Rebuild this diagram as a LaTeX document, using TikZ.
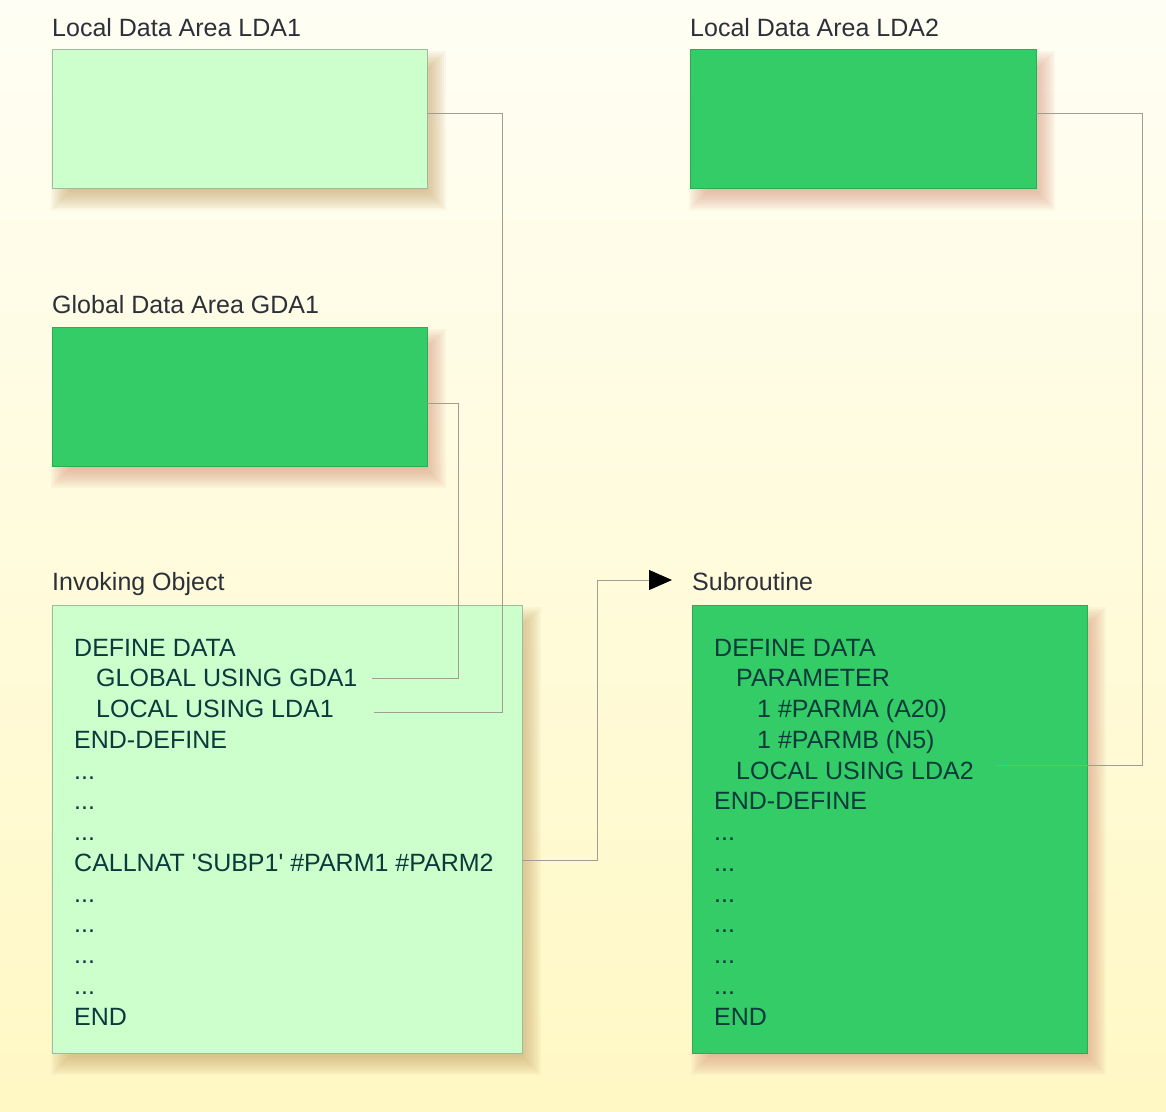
\documentclass[tikz,border=0pt]{standalone}
\usepackage{fontspec}
\setmainfont{Liberation Sans}[Ligatures=TeXOff]
\usetikzlibrary{arrows.meta}
\definecolor{bgtop}{HTML}{FFFEF4}
\definecolor{bgbot}{HTML}{FFF8C4}
\definecolor{lgreen}{HTML}{CCFFCC}
\definecolor{dgreen}{HTML}{33CC66}
\definecolor{lborder}{HTML}{9DBB9D}
\definecolor{dborder}{HTML}{2AAE55}
\definecolor{codecol}{HTML}{0B3A3C}
\definecolor{labcol}{HTML}{2C3038}
\definecolor{conncol}{HTML}{A09E94}
\definecolor{shadowL}{HTML}{C4A266}
\definecolor{shadowD}{HTML}{D8967C}
\newcommand\mkshadow[5]{%
  \foreach \s in {-10,-8,...,10}{%
    \fill[#5,opacity=0.08] ({#1+9+\s},{#2+12+\s}) rectangle ({#3+9-\s},{#4+12-\s});}}
\begin{document}
\begin{tikzpicture}[x=1pt,y=-1pt,font=\fontsize{25}{30}\selectfont,
  lightbox/.style={draw=lborder,line width=0.8pt,fill=lgreen,anchor=north west,inner sep=0pt,outer sep=0pt},
  darkbox/.style={draw=dborder,line width=0.8pt,fill=dgreen,anchor=north west,inner sep=0pt,outer sep=0pt},
  lab/.style={anchor=base west,inner sep=0pt,text=labcol},
  code/.style={anchor=base west,inner sep=0pt,text=codecol},
  conn/.style={draw=conncol,line width=1pt}]
\useasboundingbox (0,0) rectangle (1166,1111);
\shade[top color=bgtop,bottom color=bgbot] (0,0) rectangle (1166,1111);
% shadows
\mkshadow{52}{49}{427}{188}{shadowL}
\mkshadow{690}{49}{1036}{188}{shadowD}
\mkshadow{52}{327}{427}{466}{shadowD}
\mkshadow{52}{605}{522}{1053}{shadowL}
\mkshadow{692}{605}{1087}{1053}{shadowD}
% labels
\node[lab] (lLDA1) at (52,36) {Local Data Area LDA1};
\node[lab] (lLDA2) at (690,36) {Local Data Area LDA2};
\node[lab] (lGDA1) at (52,313) {Global Data Area GDA1};
\node[lab] (lInv) at (52,590) {Invoking Object};
\node[lab] (lSub) at (692,590) {Subroutine};
% boxes
\node[lightbox,minimum width=375pt,minimum height=139pt] (lda1) at (52,49) {};
\node[darkbox,minimum width=346pt,minimum height=139pt] (lda2) at (690,49) {};
\node[darkbox,minimum width=375pt,minimum height=139pt] (gda1) at (52,327) {};
\node[lightbox,minimum width=470pt,minimum height=448pt] (inv) at (52,605) {};
\node[darkbox,minimum width=395pt,minimum height=448pt] (sub) at (692,605) {};
% left code
\node[code] (a0) at (74,656) {DEFINE DATA};
\node[code] (a1) at (96,686.75) {GLOBAL USING GDA1};
\node[code] (a2) at (96,717.5) {LOCAL USING LDA1};
\node[code] (a3) at (74,748.25) {END-DEFINE};
\node[code] (a4) at (74,779) {...};
\node[code] (a5) at (74,809.75) {...};
\node[code] (a6) at (74,840.5) {...};
\node[code] (a7) at (74,871.25) {CALLNAT 'SUBP1' \#PARM1 \#PARM2};
\node[code] (a8) at (74,902) {...};
\node[code] (a9) at (74,932.75) {...};
\node[code] (a10) at (74,963.5) {...};
\node[code] (a11) at (74,994.25) {...};
\node[code] (a12) at (74,1025) {END};
% right code
\node[code] (b0) at (714,656) {DEFINE DATA};
\node[code] (b1) at (736,686.75) {PARAMETER};
\node[code] (b2) at (757,717.5) {1 \#PARMA (A20)};
\node[code] (b3) at (757,748.25) {1 \#PARMB (N5)};
\node[code] (b4) at (736,779) {LOCAL USING LDA2};
\node[code] (b5) at (714,809.75) {END-DEFINE};
\node[code] (b6) at (714,840.5) {...};
\node[code] (b7) at (714,871.25) {...};
\node[code] (b8) at (714,902) {...};
\node[code] (b9) at (714,932.75) {...};
\node[code] (b10) at (714,963.5) {...};
\node[code] (b11) at (714,994.25) {...};
\node[code] (b12) at (714,1025) {END};
% connector end points
\coordinate (gEnd) at (372,678);
\coordinate (gCorner) at (458,678);
\coordinate (lEnd) at (374,712);
\coordinate (lCorner) at (502,712);
\coordinate (cCorner) at (597,580);
\coordinate (cTip) at (672,580);
\coordinate (l2End) at (995,765);
\coordinate (l2Corner) at (1142,765);
% connectors
\draw[conn] ([yshift=5.5pt]lda1.east) -| (lCorner) -- (lEnd);
\draw[conn] ([yshift=-7pt]gda1.east) -| (gCorner) -- (gEnd);
\draw[conn] ([yshift=5.5pt]lda2.east) -| (l2Corner) -- (l2End);
\draw[conn,-{Triangle[length=23pt,width=20pt,color=black]}] ([yshift=-31pt]inv.east) -| (cCorner) -- (cTip);
\end{tikzpicture}
\end{document}
